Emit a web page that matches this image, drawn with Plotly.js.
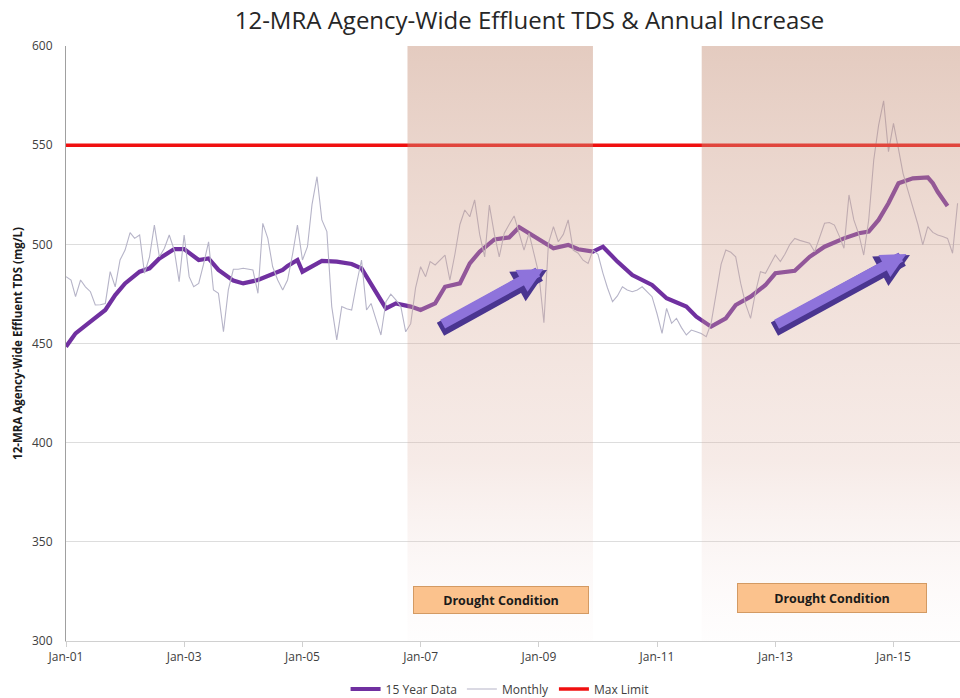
<!DOCTYPE html>
<html>
<head>
<meta charset="utf-8">
<script src="https://cdn.plot.ly/plotly-3.0.1.min.js"></script>
<style>html,body{margin:0;padding:0;background:#fff;}#chart{width:960px;height:698px;}</style>
</head>
<body>
<div id="chart"></div>
<script>
// ---- Data ----
const mraDates = ['2001-01','2001-03','2001-06','2001-09','2001-11','2002-01','2002-04','2002-06','2002-08','2002-11',
  '2003-01','2003-04','2003-06','2003-08','2003-11','2004-01','2004-04','2004-06','2004-09','2004-10','2004-12',
  '2005-01','2005-03','2005-05','2005-08','2005-11','2006-01','2006-03','2006-06','2006-08','2006-11',
  '2007-01','2007-04','2007-06','2007-09','2007-11','2008-01','2008-04','2008-07','2008-09','2008-11',
  '2009-02','2009-04','2009-07','2009-09','2009-12','2010-02','2010-05','2010-08','2010-12',
  '2011-03','2011-07','2011-09','2011-12','2012-03','2012-05','2012-08','2012-11',
  '2013-01','2013-05','2013-08','2013-11','2014-03','2014-06','2014-08','2014-10','2014-12',
  '2015-02','2015-05','2015-08','2015-09','2015-10','2015-12'];
const mraValues = [448.4,455.1,461,466.9,474.4,480.3,486.2,487.9,492.9,497.6,
  497.6,492.1,492.9,487.1,481.7,480.3,482,484,487.1,489.1,492.1,
  486.2,488.7,491.6,491.3,490.1,487.9,480.3,467.7,470.2,468.6,
  466.9,470.2,478.6,480.3,490.4,496.3,502.5,503.5,508.6,505.6,
  501.3,498,499.7,497.5,496.3,498.8,491.3,484.5,479.5,
  472.8,468.6,463.5,458.5,462.7,469.4,473.6,479.5,
  485.4,486.7,493.7,498.8,503,505.6,506.4,512.3,520.7,
  530.8,533.3,533.8,530.8,526.5,519.3];

const monthlyStartYear = 2001;
const monthlyValues = [
  483.7,482,473.6,482,478.6,476.1,469.4,469.5,470.2,486.2,478.6,492.1,
  497.1,505.9,503,504.7,485.4,493.7,509.7,493.7,498,504.7,497.1,481.2,
  504.7,483.7,478.6,480.3,490,501.3,477,475.3,455.9,477,487.4,487.4,
  487.9,487.5,487.1,475.3,510.6,503,488.7,482,477,482,495,509.7,
  492.1,498.8,520,534.1,512.3,506.4,468.6,451.8,468.6,467.5,466.9,480,
  492.1,466.9,470.2,462,454.3,471.1,474.9,472,468.6,455.9,460,478,
  488.7,483.7,491.3,489.6,492,494.6,482,495,510,517.3,513.9,522.4,
  505,493.7,519.8,505,493.7,505.6,510,514.3,505.6,497.1,505.6,495,
  485,460.5,500.5,508.9,501.3,505,512.3,497.1,495.5,492,490.4,497.1,
  495,485.4,478,471.1,474,478.6,477,476.1,477,478.6,476,473.6,
  465,455.1,467.7,460.2,462.7,458,454.3,456.8,455.9,455,453.4,460.2,
  475,490,497.1,496,493.7,480.3,470,462.7,476,486.2,485.4,490,
  494.6,491.3,495,500,503,502,501.3,500.5,496.3,503,510.6,511,
  509.7,504,498,524.9,512.3,505,494.6,512.3,542.5,560,572.4,546.7,
  561,548,535.8,527,519,510,499.7,508.9,506,504.7,504,503,
  495.5,520.7];

const maxLimitDates = ['2001-01-01','2016-02-16'];
const maxLimitValue = 550;

const droughtStart = ['2006-10-12','2011-10-04'];
const droughtEnd = ['2009-12-01','2016-06-01'];
const droughtLabel = 'Drought Condition';

// ---- Build ----
function monthDate(i){
  const y = monthlyStartYear + Math.floor(i/12);
  const m = (i%12)+1;
  return y + '-' + (m<10?'0':'') + m + '-01';
}
const monthlyDates = monthlyValues.map((v,i)=>monthDate(i));

const yMin = 300, yMax = 600;

const traces = [
  {x: mraDates, y: mraValues, type:'scatter', mode:'lines', name:'15 Year Data',
   line:{color:'#7030A0', width:4.2}, hoverinfo:'skip'},
  {x: monthlyDates, y: monthlyValues, type:'scatter', mode:'lines', name:'Monthly',
   line:{color:'rgb(182,180,200)', width:1.1}, hoverinfo:'skip'},
  {x: maxLimitDates, y: [maxLimitValue, maxLimitValue], type:'scatter', mode:'lines', name:'Max Limit',
   line:{color:'#F01010', width:3.5}, hoverinfo:'skip'}
];

droughtStart.forEach((s,i)=>{
  const e = droughtEnd[i];
  traces.push({
    x:[s,s,e,e,s], y:[yMin,yMax,yMax,yMin,yMin], type:'scatter', mode:'lines',
    fill:'toself', line:{width:0, color:'rgba(0,0,0,0)'},
    fillgradient:{type:'vertical', start:yMin, stop:yMax,
      colorscale:[[0,'rgba(240,215,215,0.04)'],[0.3,'rgba(220,175,160,0.25)'],[0.65,'rgba(210,160,140,0.35)'],[1,'rgba(195,140,115,0.45)']]},
    showlegend:false, hoverinfo:'skip'
  });
});

const font = 'Liberation Sans Narrow, Open Sans, DejaVu Sans Condensed, sans-serif';

const layout = {
  width:960, height:698,
  margin:{l:66, r:0, t:46, b:57},
  paper_bgcolor:'#fff', plot_bgcolor:'#fff',
  title:{text:'12-MRA Agency-Wide Effluent TDS &amp; Annual Increase',
    font:{family:'Open Sans, sans-serif', size:24, color:'#262626'},
    x:0.5185, xref:'paper', xanchor:'center', y:0.971, yref:'container', yanchor:'middle'},
  showlegend:true,
  legend:{orientation:'h', x:0.485, xanchor:'center', y:0.0129, yref:'container', yanchor:'middle',
    font:{family:font, size:12, color:'#404040'}, traceorder:'normal'},
  xaxis:{type:'date', range:['2001-01-01','2016-02-16'], tick0:'2001-01-01', dtick:'M24',
    tickformat:'%b-%y', showgrid:false, showline:true, linecolor:'#D0D0D0', linewidth:1,
    ticks:'outside', ticklen:5, tickcolor:'#D0D0D0', zeroline:false,
    tickfont:{family:font, size:12, color:'#404040'}},
  yaxis:{range:[yMin,yMax], dtick:50, tick0:300, showgrid:true, gridcolor:'#DDDDDD', gridwidth:1,
    showline:true, linecolor:'#A0A0A0', linewidth:1, zeroline:false, ticks:'',
    ticklabelstandoff:10,
    tickfont:{family:font, size:12, color:'#404040'},
    title:{text:'<b>12-MRA Agency-Wide Effluent TDS (mg/L)</b>', standoff:6,
      font:{family:'Open Sans, sans-serif', size:11.5, color:'#1a1a1a'}}},
  annotations:[
    {xref:'paper', yref:'paper', x:0.4866, y:0.069, xanchor:'center', yanchor:'middle',
     text:'<b>'+droughtLabel+'</b>', showarrow:false,
     bgcolor:'#FBC28D', bordercolor:'#D39A63', borderwidth:1, width:172, height:24,
     font:{family:'Open Sans, sans-serif', size:12.5, color:'#1a1a1a'}},
    {xref:'paper', yref:'paper', x:0.857, y:0.072, xanchor:'center', yanchor:'middle',
     text:'<b>'+droughtLabel+'</b>', showarrow:false,
     bgcolor:'#FBC28D', bordercolor:'#D39A63', borderwidth:1, width:186, height:26,
     font:{family:'Open Sans, sans-serif', size:12.5, color:'#1a1a1a'}},
    {xref:'paper', yref:'paper', x:0.538, y:0.6235, text:'', showarrow:true, ax:-108, ay:60,
     arrowhead:2, arrowsize:0.45, arrowwidth:15, arrowcolor:'#4A3590', standoff:0},
    {xref:'paper', yref:'paper', x:0.536, y:0.627, text:'', showarrow:true, ax:-104, ay:57,
     arrowhead:2, arrowsize:0.5, arrowwidth:10, arrowcolor:'#8E73DB', standoff:2},
    {xref:'paper', yref:'paper', x:0.944, y:0.6487, text:'', showarrow:true, ax:-137, ay:75,
     arrowhead:2, arrowsize:0.45, arrowwidth:15, arrowcolor:'#4A3590', standoff:0},
    {xref:'paper', yref:'paper', x:0.942, y:0.652, text:'', showarrow:true, ax:-133, ay:72,
     arrowhead:2, arrowsize:0.5, arrowwidth:10, arrowcolor:'#8E73DB', standoff:2}
  ]
};

Plotly.newPlot('chart', traces, layout, {staticPlot:true, displayModeBar:false});
</script>
</body>
</html>
